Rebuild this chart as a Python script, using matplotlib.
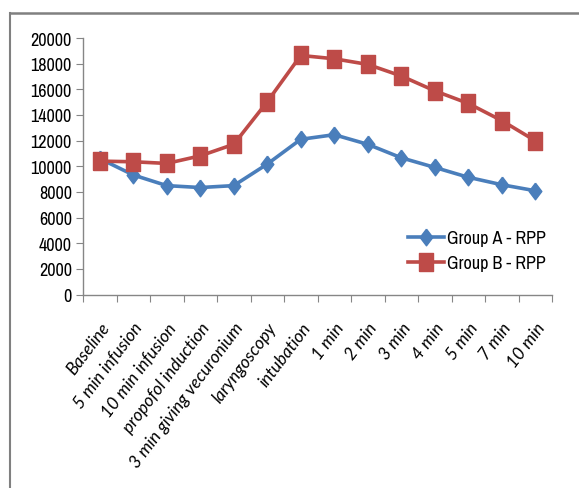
import matplotlib
matplotlib.use("Agg")
import matplotlib.pyplot as plt
from matplotlib.lines import Line2D

categories = ["Baseline", "5 min infusion", "10 min infusion", "propofol induction",
              "3 min giving vecuronium", "laryngoscopy", "intubation", "1 min", "2 min",
              "3 min", "4 min", "5 min", "7 min", "10 min"]
group_a = [10600, 9320, 8490, 8340, 8490, 10170, 12100, 12460, 11710, 10660,
           9910, 9140, 8560, 8090]
group_b = [10400, 10350, 10220, 10810, 11710, 15030, 18640, 18380, 17940, 17040,
           15880, 14900, 13560, 11990]
y_ticks = list(range(0, 20001, 2000))

narrow = ["Archivo Narrow", "Liberation Sans"]
label_font = ["Lato", "DejaVu Sans"]

# the source picture is squeezed sideways, so the markers are a little taller than wide
diamond = [(0, 0.5), (0.38, 0), (0, -0.5), (-0.38, 0), (0, 0.5)]
box = [(-0.39, -0.5), (0.39, -0.5), (0.39, 0.5), (-0.39, 0.5), (-0.39, -0.5)]

fig = plt.figure(figsize=(5.79, 4.89), dpi=100)
ax = fig.add_axes([83 / 579, 1 - 295.5 / 489, 469 / 579, 256.5 / 489])

x = list(range(len(categories)))
blue, red = "#4A7EBB", "#BE4B48"
ax.plot(x, group_a, color=blue, lw=2.6, marker=diamond, ms=12, label="Group A - RPP", zorder=3)
ax.plot(x, group_b, color=red, lw=2.6, marker=box, ms=12.5, label="Group B - RPP", zorder=3)

ax.set_xlim(-0.5, len(categories) - 0.5)
ax.set_ylim(0, 20000)
ax.set_yticks(y_ticks)
ax.set_yticklabels([str(v) for v in y_ticks], family=narrow, fontsize=13)

# tick marks between categories, labels at category centres
ax.set_xticks([i - 0.5 for i in range(len(categories) + 1)])
ax.set_xticklabels([])
ax.set_xticks(x, minor=True)
ax.set_xticklabels(categories, minor=True, rotation=53, ha="right", va="top",
                   rotation_mode="anchor", family=label_font, style="italic", fontsize=12.5)
ax.tick_params(axis="x", which="minor", length=0, pad=18)
ax.tick_params(axis="x", which="major", length=5, color="#868686", direction="out")
ax.tick_params(axis="y", length=5, color="#868686", direction="out", pad=3)

for s in ("top", "right"):
    ax.spines[s].set_visible(False)
for s in ("left", "bottom"):
    ax.spines[s].set_color("#868686")
    ax.spines[s].set_linewidth(1.0)

leg = ax.legend(loc="center left", bbox_to_anchor=(0.692, 0.17), frameon=False,
                prop={"family": narrow, "size": 13}, handlelength=2.0, labelspacing=0.5,
                handletextpad=0.2, borderaxespad=0, borderpad=0)

# outer frame lines (top and left) of the original picture
fig.add_artist(Line2D([9.5 / 579, 9.5 / 579], [0, 1 - 14 / 489], color="#808080", lw=1.5,
                      transform=fig.transFigure))
fig.add_artist(Line2D([9.5 / 579, 1], [1 - 14 / 489, 1 - 14 / 489], color="#808080", lw=1.8,
                      transform=fig.transFigure))

fig.savefig("out.png", dpi=100, facecolor="white")
